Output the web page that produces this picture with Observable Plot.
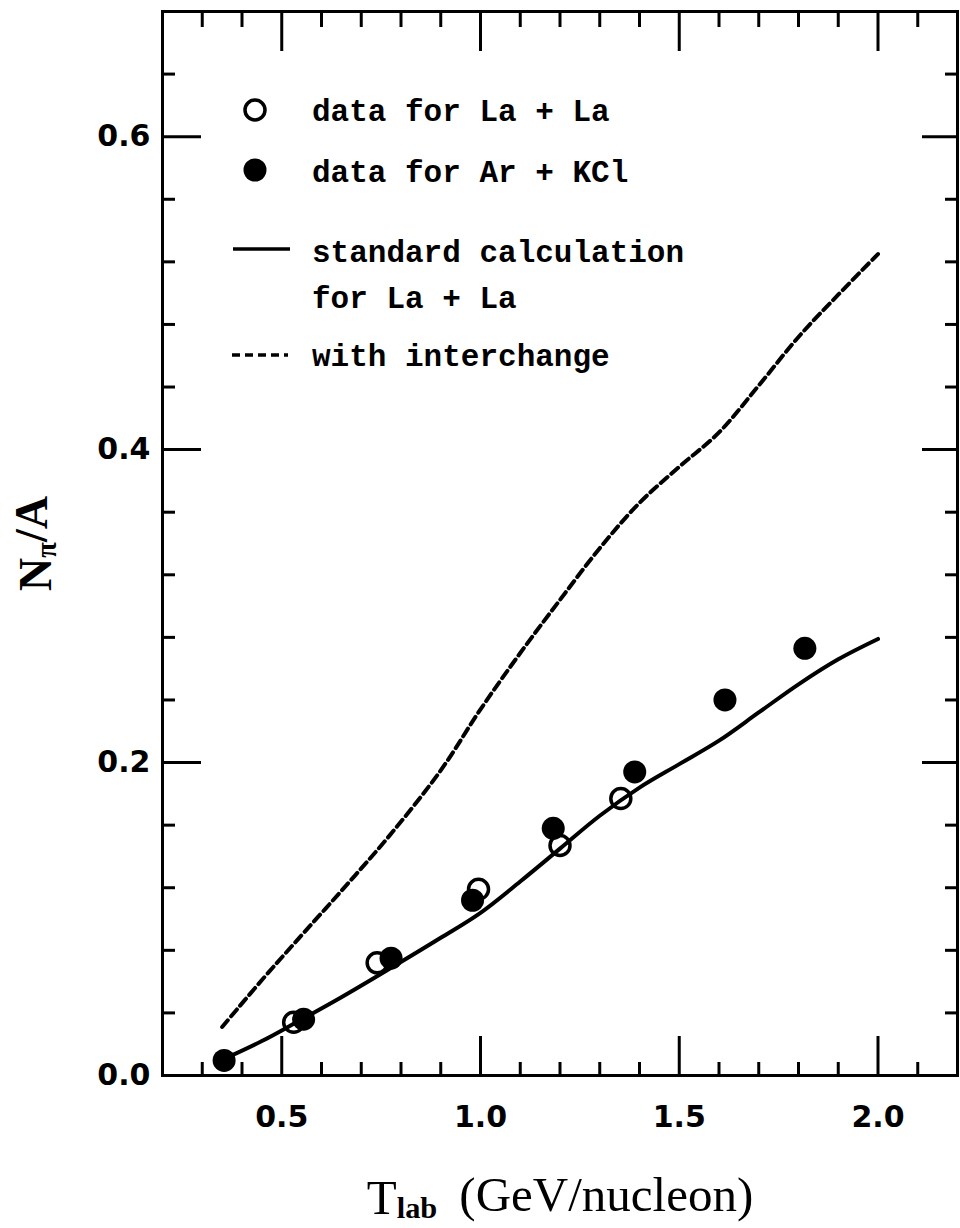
<!DOCTYPE html>
<html>
<head>
<meta charset="utf-8">
<script src="https://cdn.jsdelivr.net/npm/d3@7"></script>
<script src="https://cdn.jsdelivr.net/npm/@observablehq/plot@0.6"></script>
<style>
html, body { margin: 0; padding: 0; background: #fff; }
#wrap { position: relative; width: 960px; height: 1228px; }
#legend { position: absolute; left: 0; top: 0; pointer-events: none; }
</style>
</head>
<body>
<div id="wrap"></div>
<script>
// ---- data ----
// open circles: data for La + La
const laX = [0.53, 0.74, 0.995, 1.20, 1.353];
const laY = [0.034, 0.072, 0.119, 0.147, 0.177];
// filled circles: data for Ar + KCl
const arX = [0.355, 0.555, 0.775, 0.98, 1.183, 1.388, 1.615, 1.816];
const arY = [0.0096, 0.036, 0.075, 0.112, 0.158, 0.194, 0.240, 0.273];
// calculations
const calcX = [0.35, 0.45, 0.53, 0.65, 0.77, 0.90, 1.00, 1.10, 1.20, 1.30, 1.40, 1.50, 1.60, 1.70, 1.80, 1.90, 2.00];
const stdY  = [0.010, 0.022, 0.033, 0.050, 0.068, 0.088, 0.104, 0.124, 0.145, 0.166, 0.184, 0.199, 0.214, 0.232, 0.250, 0.266, 0.279];
const intY  = [0.031, 0.061, 0.084, 0.118, 0.153, 0.195, 0.234, 0.270, 0.304, 0.337, 0.366, 0.389, 0.411, 0.441, 0.472, 0.499, 0.525];
// ticks
const xMajor = [0.5, 1.0, 1.5, 2.0];
const xMinor = [0.3, 0.4, 0.6, 0.7, 0.8, 0.9, 1.1, 1.2, 1.3, 1.4, 1.6, 1.7, 1.8, 1.9, 2.1];
const yMajor = [0.0, 0.2, 0.4, 0.6];
const yMinor = [0.04, 0.08, 0.12, 0.16, 0.24, 0.28, 0.32, 0.36, 0.44, 0.48, 0.52, 0.56, 0.64];
// texts
const XLABEL = "T_lab (GeV/nucleon)";
const YLABEL = "N_pi/A";
const legendItems = ["data for La + La", "data for Ar + KCl", "standard calculation", "for La + La", "with interchange"];

const la = laX.map((x, i) => ({x, y: laY[i]}));
const ar = arX.map((x, i) => ({x, y: arY[i]}));
const std = calcX.map((x, i) => ({x, y: stdY[i]}));
const inter = calcX.map((x, i) => ({x, y: intY[i]}));

const tickFont = {fontFamily: "DejaVu Sans, sans-serif", fontWeight: "bold", fontSize: 30};
const MAJ = -39, MIN = -13, SW = 3;

const chart = Plot.plot({
  width: 960,
  height: 1228,
  marginLeft: 162,
  marginRight: 3,
  marginTop: 11,
  marginBottom: 153,
  style: {background: "#fff", color: "#000", overflow: "visible"},
  x: {domain: [0.2, 2.2]},
  y: {domain: [0, 0.68]},
  marks: [
    // inward ticks on all four sides
    Plot.axisX(xMajor, {anchor: "bottom", tickSize: MAJ, strokeWidth: SW, tickFormat: () => "", label: null}),
    Plot.axisX(xMinor, {anchor: "bottom", tickSize: MIN, strokeWidth: SW, tickFormat: () => "", label: null}),
    Plot.axisX(xMajor, {anchor: "top", tickSize: MAJ, strokeWidth: SW, tickFormat: () => "", label: null}),
    Plot.axisX(xMinor, {anchor: "top", tickSize: MIN - 2, strokeWidth: SW, tickFormat: () => "", label: null}),
    Plot.axisY(yMajor, {anchor: "left", tickSize: MAJ, strokeWidth: SW, tickFormat: () => "", label: null}),
    Plot.axisY(yMinor, {anchor: "left", tickSize: MIN, strokeWidth: SW, tickFormat: () => "", label: null}),
    Plot.axisY(yMajor, {anchor: "right", tickSize: MAJ + 3, strokeWidth: SW, tickFormat: () => "", label: null}),
    Plot.axisY(yMinor, {anchor: "right", tickSize: MIN, strokeWidth: SW, tickFormat: () => "", label: null}),
    // tick labels
    Plot.axisX(xMajor, {anchor: "bottom", tickSize: 0, tickPadding: 30, tickFormat: d3.format(".1f"), label: null, ...tickFont}),
    Plot.axisY(yMajor, {anchor: "left", tickSize: 0, tickPadding: 12, tickFormat: d3.format(".1f"), label: null, ...tickFont}),
    Plot.frame({stroke: "#000", strokeWidth: SW}),
    // curves
    Plot.line(inter, {x: "x", y: "y", curve: "catmull-rom", stroke: "#000", strokeWidth: 4, strokeDasharray: "9,5"}),
    Plot.line(std, {x: "x", y: "y", curve: "catmull-rom", stroke: "#000", strokeWidth: 4}),
    // data
    Plot.dot(la, {x: "x", y: "y", r: 10, fill: "none", stroke: "#000", strokeWidth: 3.5}),
    Plot.dot(ar, {x: "x", y: "y", r: 11.5, fill: "#000", stroke: "none"}),
    // axis titles
    Plot.text([XLABEL], {frameAnchor: "bottom", dy: 138, lineAnchor: "bottom", textAnchor: "middle", text: d => d,
      fontFamily: "Liberation Serif, serif", fontSize: 49, fill: "#000"}),
    Plot.text([YLABEL], {frameAnchor: "left", dx: -112, rotate: -90, lineAnchor: "bottom", textAnchor: "middle", text: d => d,
      fontFamily: "Liberation Serif, serif", fontSize: 46, fontWeight: "bold", fill: "#000"})
  ]
});

document.getElementById("wrap").appendChild(chart);

// subscripts in axis titles
d3.select(chart).selectAll("text").each(function () {
  const t = this.textContent;
  if (t === XLABEL) {
    const el = d3.select(this);
    el.text("");
    el.append("tspan").text("T");
    el.append("tspan").attr("font-size", "0.62em").attr("font-weight", "bold").attr("dy", "0.16em").text("lab");
    el.append("tspan").attr("dy", "-0.16em").attr("dx", "0.45em").text("(GeV/nucleon)");
  } else if (t === YLABEL) {
    const el = d3.select(this);
    el.text("");
    el.append("tspan").text("N");
    el.append("tspan").attr("font-size", "0.62em").attr("dy", "0.2em").text("\u03c0");
    el.append("tspan").attr("dy", "-0.2em").text("/A");
  }
});

// legend overlay
const lg = d3.select("#wrap").append("svg").attr("id", "legend").attr("width", 960).attr("height", 400);
lg.append("circle").attr("cx", 255).attr("cy", 110).attr("r", 10).attr("fill", "none").attr("stroke", "#000").attr("stroke-width", 3.5);
lg.append("circle").attr("cx", 255).attr("cy", 170).attr("r", 11.5).attr("fill", "#000");
lg.append("line").attr("x1", 233).attr("x2", 290).attr("y1", 249).attr("y2", 249).attr("stroke", "#000").attr("stroke-width", 3.5);
lg.append("line").attr("x1", 232).attr("x2", 288).attr("y1", 355).attr("y2", 355).attr("stroke", "#000").attr("stroke-width", 3.5).attr("stroke-dasharray", "8,5");
const baselines = [121, 182, 262, 308, 366];
lg.selectAll("text.item").data(legendItems).join("text")
  .attr("class", "item")
  .attr("x", 312)
  .attr("y", (d, i) => baselines[i])
  .attr("font-family", "Liberation Mono, monospace")
  .attr("font-weight", "bold")
  .attr("font-size", 31)
  .attr("fill", "#000")
  .text(d => d);
</script>
</body>
</html>
